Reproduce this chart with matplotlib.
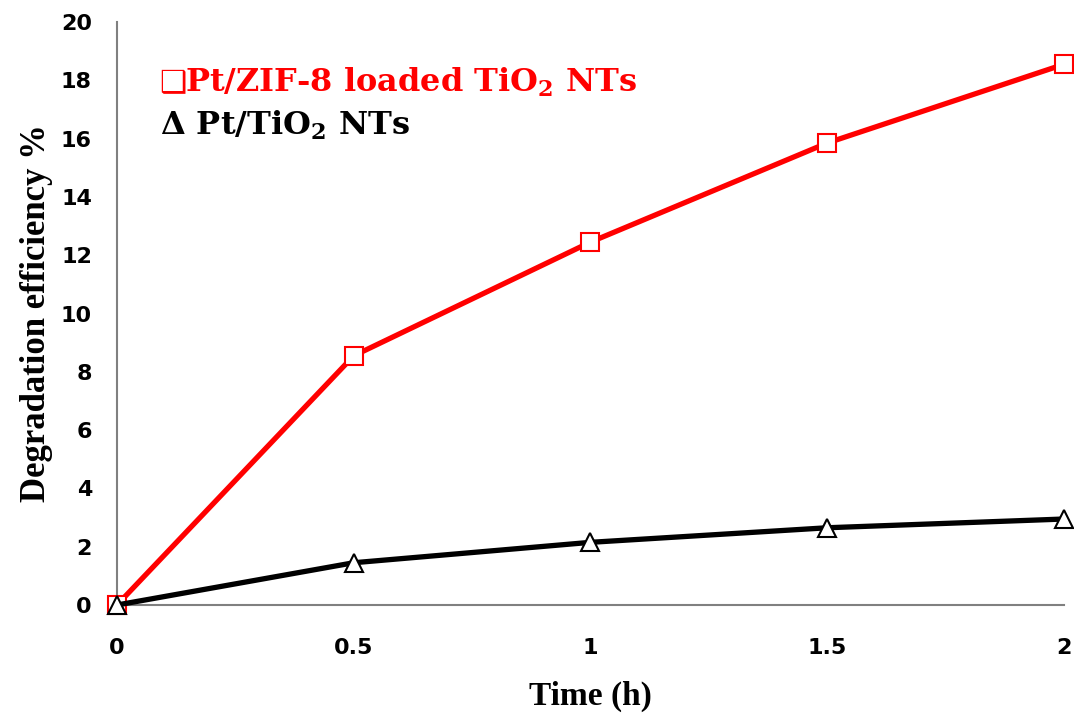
import matplotlib
matplotlib.use("Agg")
import matplotlib.pyplot as plt

# Degradation efficiency over irradiation time
time_h = [0, 0.5, 1, 1.5, 2]
pt_zif8_tio2 = [0, 8.55, 12.45, 15.85, 18.55]
pt_tio2 = [0, 1.45, 2.15, 2.65, 2.95]
x_ticks = [0, 0.5, 1, 1.5, 2]
x_tick_labels = ["0", "0.5", "1", "1.5", "2"]
y_ticks = list(range(0, 21, 2))

plt.rcParams["mathtext.fontset"] = "custom"
plt.rcParams["mathtext.rm"] = "DejaVu Serif:bold"
plt.rcParams["mathtext.bf"] = "DejaVu Serif:bold"
plt.rcParams["mathtext.it"] = "DejaVu Serif:bold"

fig = plt.figure(figsize=(10.74, 7.17), dpi=100)
ax = fig.add_axes([0.1089, 0.1562, 0.8818, 0.8131])

ax.plot(time_h, pt_zif8_tio2, color="#ff0000", lw=3.8, marker="s", ms=12.5,
        mfc="white", mec="#ff0000", mew=1.5, zorder=3, clip_on=False)
ax.plot(time_h, pt_tio2, color="black", lw=3.8, marker="^", ms=13.5,
        mfc="white", mec="black", mew=1.5, zorder=4, clip_on=False)

ax.set_xlim(0, 2)
ax.set_ylim(0, 20)
ax.set_xticks(x_ticks)
ax.set_xticklabels(x_tick_labels)
ax.set_yticks(y_ticks)
ax.tick_params(length=0, labelsize=16)
for lbl in ax.get_xticklabels() + ax.get_yticklabels():
    lbl.set_fontfamily("DejaVu Sans")
    lbl.set_fontweight("bold")
ax.tick_params(axis="x", pad=24)
ax.tick_params(axis="y", pad=18)

for side in ("top", "right"):
    ax.spines[side].set_visible(False)
for side in ("left", "bottom"):
    ax.spines[side].set_color("#808080")
    ax.spines[side].set_linewidth(1.5)

ax.set_xlabel("Time (h)", fontfamily="Liberation Serif", fontweight="bold",
              fontsize=24, labelpad=16)
ax.set_ylabel("Degradation efficiency %", fontfamily="Liberation Serif",
              fontweight="bold", fontsize=25, labelpad=6)

ax.text(0.045, 0.88, "\u2751", transform=ax.transAxes, color="#ff0000",
        fontsize=22, family=["DejaVu Sans"], va="baseline")
ax.text(0.072, 0.88, r"Pt/ZIF-8 loaded TiO$_2$ NTs", transform=ax.transAxes,
        color="#ff0000", fontsize=23, family="DejaVu Serif", fontweight="bold",
        va="baseline")
ax.text(0.045, 0.806, r"$\Delta$ Pt/TiO$_2$ NTs", transform=ax.transAxes,
        color="black", fontsize=23, family="DejaVu Serif", fontweight="bold",
        va="baseline")

fig.savefig("out.png", dpi=100)
